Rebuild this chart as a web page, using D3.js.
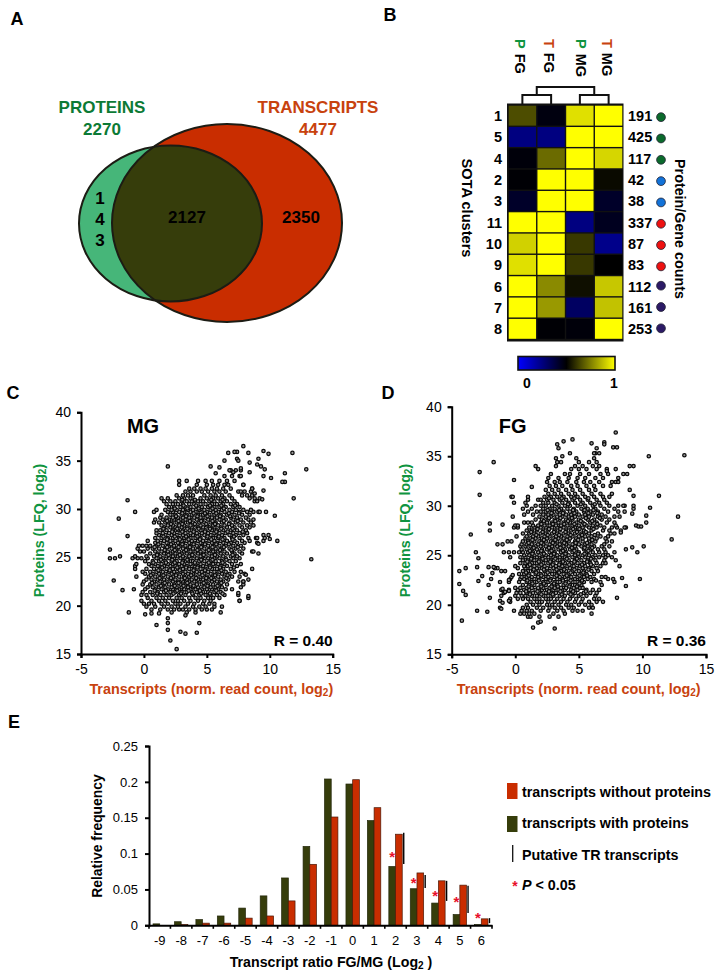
<!DOCTYPE html>
<html><head><meta charset="utf-8">
<script src="https://cdn.jsdelivr.net/npm/d3@7"></script>
<style>
html,body{margin:0;padding:0;background:#fff}
svg{display:block}
text{font-family:"Liberation Sans",Arial,sans-serif;fill:#000}
</style></head><body>
<svg id="c" width="720" height="977" viewBox="0 0 720 977"></svg>
<script>
// ---------- Panel A
const vennLabels = ["PROTEINS","TRANSCRIPTS"];
const vennTotals = [2270,4477];
const vennOnlyProt = ["1","4","3"];
const vennShared = 2127, vennOnlyTrans = 2350;
// ---------- Panel B
const heatCols = [["P","FG"],["T","FG"],["P","MG"],["T","MG"]];
const heatRowIds = [1,5,4,2,3,11,10,9,6,7,8];
const heatCounts = [191,425,117,42,38,337,87,83,112,161,253];
const heatGroups = ["g","g","g","b","b","r","r","r","p","p","p"];
const heatPFG = [.65,.25,.48,.49,.42,1,.91,.94,1,1,1];
const heatTFG = [.47,.25,.71,1,1,1,1,1,.77,.80,.49];
const heatPMG = [.94,1,1,1,1,.25,.61,.61,.53,.31,.48];
const heatTMG = [1,1,.92,.52,.42,.44,.23,.5,.89,.88,1];
const mgRows = [
[19.3,[2.2,3.4,4.1,6.1]],[19.6,[.6,1.3,1.9,2.4,2.8,3.1,3.6,4.1,4.6,5.0,5.4]],[19.9,[.2,.9,1.6,2.2,2.7,3.3,3.9,4.4,4.9,5.6,6.2]],
[20.2,[.0,.4,.8,1.4,1.9,2.5,2.9,3.5,4.0,4.7,5.2,5.6]],[20.5,[-.2,.6,1.2,1.7,2.3,2.7,3.2,3.7,4.3,4.8,5.3,7.6]],[20.8,[.3,1.0,1.5,2.0,2.6,3.0,3.6,4.1,4.5,5.1,5.5,6.0,8.3]],
[21.1,[-.2,.2,.7,1.3,1.8,2.2,2.8,3.3,3.9,4.4,4.9,5.3,5.8,6.4,7.5]],[21.4,[-.1,.5,1.1,1.6,2.1,2.5,3.0,3.4,3.8,4.2,4.7,5.1,5.6,6.1]],[21.7,[.1,.9,1.4,1.9,2.3,2.8,3.2,3.7,4.1,4.6,5.0,5.4,5.9,6.5,7.0,-.8]],
[21.9,[.3,.7,1.2,1.7,2.2,2.6,3.0,3.5,3.9,4.3,4.8,5.3,5.7,6.2,7.7]],[22.2,[-.1,.5,1.0,1.5,2.0,2.4,2.9,3.3,3.7,4.2,4.6,5.1,5.5,6.0,6.6,7.9]],[22.5,[.0,.8,1.3,1.8,2.3,2.7,3.1,3.6,4.0,4.4,4.9,5.4,5.8,6.3,7.5,7.9]],
[22.7,[.2,.6,1.1,1.6,2.1,2.5,3.0,3.4,3.8,4.3,4.7,5.2,5.6,6.1,6.7,8.3]],[23.0,[-.6,.4,.9,1.4,1.9,2.3,2.8,3.2,3.6,4.1,4.5,5.0,5.5,5.9,6.4,7.0,7.6]],[23.3,[.1,.7,1.2,1.7,2.2,2.6,3.1,3.5,3.9,4.4,4.8,5.3,5.7,6.2,6.8,8.0]],
[23.5,[-.1,.5,1.0,1.5,2.0,2.4,2.9,3.3,3.8,4.2,4.6,5.1,5.6,6.0,6.5,7.2,7.7]],[23.8,[-.7,.2,.8,1.3,1.8,2.3,2.7,3.1,3.6,4.0,4.5,4.9,5.4,5.8,6.3,6.9,8.6]],[24.1,[-.7,.6,1.1,1.6,2.1,2.5,3.0,3.4,3.8,4.3,4.7,5.2,5.6,6.1,6.6,7.4]],
[24.3,[-.6,.4,.9,1.4,1.9,2.3,2.8,3.2,3.7,4.1,4.5,5.0,5.5,5.9,6.4,7.0,7.7]],[24.6,[.1,.7,1.2,1.7,2.2,2.6,3.1,3.5,3.9,4.4,4.8,5.3,5.7,6.2,6.8,7.3]],[24.9,[-.9,-.5,-.2,.3,1.0,1.5,2.0,2.4,2.9,3.3,3.7,4.2,4.6,5.1,5.6,6.0,6.5,7.1,7.6]],
[25.1,[-.7,.2,.8,1.3,1.8,2.3,2.7,3.1,3.6,4.0,4.5,4.9,5.4,5.8,6.3,6.9,7.4]],[25.4,[.5,1.1,1.6,2.1,2.5,3.0,3.4,3.8,4.3,4.7,5.2,5.6,6.1,6.6,7.2,7.8,9.1]],[25.6,[-.3,.0,.9,1.4,1.9,2.3,2.8,3.2,3.7,4.1,4.5,5.0,5.5,5.9,6.4,7.0,7.6,8.6]],
[25.9,[-.5,.3,.7,1.2,1.7,2.2,2.6,3.1,3.5,3.9,4.4,4.8,5.3,5.7,6.2,6.8,7.3,7.9]],[26.2,[-.4,-.1,.2,.5,1.0,1.5,2.0,2.4,2.9,3.3,3.7,4.2,4.6,5.1,5.6,6.0,6.5,7.1,7.7]],[26.5,[.9,1.3,1.8,2.3,2.7,3.1,3.6,4.0,4.5,4.9,5.4,5.8,6.3,6.9,7.4,8.0,9.0]],
[26.7,[.3,1.1,1.6,2.1,2.5,3.0,3.4,3.8,4.3,4.7,5.2,5.6,6.1,6.6,7.2,7.8,8.4,9.5]],[27.0,[.9,1.4,1.9,2.3,2.8,3.2,3.7,4.1,4.5,5.0,5.5,5.9,6.4,7.0,7.6,8.3,8.9,9.6]],[27.3,[1.2,1.7,2.2,2.6,3.1,3.5,3.9,4.4,4.8,5.3,5.7,6.2,6.8,7.3,7.9,9.5]],
[27.5,[1.0,1.5,2.0,2.4,2.9,3.3,3.7,4.2,4.6,5.1,5.6,6.0,6.5,7.1,7.6,8.2]],[27.8,[1.0,1.3,1.8,2.3,2.7,3.1,3.6,4.0,4.5,4.9,5.4,5.8,6.3,6.9,7.4,8.1]],[28.1,[1.6,2.1,2.5,3.0,3.4,3.8,4.3,4.7,5.2,5.6,6.1,6.6,7.2,7.8,8.4]],
[28.3,[1.4,1.9,2.3,2.8,3.2,3.7,4.1,4.5,5.0,5.5,5.9,6.4,7.0,7.6,8.2,8.7]],[28.6,[.8,1.2,1.7,2.2,2.6,3.1,3.5,3.9,4.4,4.8,5.3,5.7,6.2,6.8,7.3,7.9,8.5]],[28.9,[.9,1.5,2.0,2.4,2.9,3.3,3.7,4.2,4.6,5.1,5.6,6.0,6.5,7.1,7.7,8.3,8.7]],
[29.1,[1.3,1.8,2.3,2.7,3.1,3.6,4.0,4.5,4.9,5.4,5.8,6.3,6.9,7.4,8.1]],[29.4,[1.4,2.1,2.5,3.0,3.4,3.8,4.3,4.7,5.2,5.6,6.1,6.6,7.2,7.8,8.4]],[29.7,[.8,1.9,2.3,2.8,3.2,3.7,4.1,4.5,5.0,5.5,5.9,6.4,7.0,7.6,8.2,8.7,9.1,9.7]],
[29.9,[1.0,1.7,2.2,2.6,3.1,3.5,3.9,4.4,4.8,5.3,5.7,6.2,6.8,7.3,7.9,8.5]],[30.2,[2.0,2.4,2.9,3.3,3.7,4.2,4.6,5.1,5.6,6.0,6.5,7.1,7.6]],[30.5,[1.8,2.3,2.7,3.1,3.6,4.0,4.5,4.9,5.4,5.8,6.3,6.9,7.4]],
[30.8,[1.6,2.1,2.5,3.0,3.4,3.8,4.3,4.7,5.2,5.6,6.1,6.6,7.2,8.8,9.0]],[31.1,[1.4,1.9,2.8,3.2,3.7,4.5,5.0,5.5,5.9,6.4,7.0,8.4,8.8]],[31.4,[2.6,3.1,3.5,3.9,4.8,5.3,5.7,6.2,6.8,7.8,8.2,8.6]],
[31.8,[3.3,3.7,4.2,4.6,5.1,5.6,6.0,6.5,7.5,7.7,8.0,8.5]],[32.1,[3.6,4.0,4.5,4.9,5.4,5.8,6.3,6.9,8.6]],[32.5,[2.8,4.2,5.0,5.5,5.9,6.4,6.7,7.9]],
[32.9,[2.8,3.4,4.3,4.9,5.4,6.0,6.6,7.2]],[33.4,[6.4,7.0,7.6,7.7]],[34.0,[6.9,7.3,7.7]]
];
const mgFill = [
[21.25,[1.05,2.35,2.95,3.85,4.55,5.25,6.25]],[21.55,[.85,1.75,2.65,3.55,4.45,5.75]],[22.05,[1.35,2.45,3.15,3.95,5.05,5.85]],[22.35,[.65,1.65,2.75,3.45,4.75,6.15]],
[22.85,[1.25,2.15,3.25,4.15,4.95,5.35,6.55]],[23.15,[.55,1.55,2.55,3.75,4.65,5.65,6.65]],[23.65,[1.15,2.05,2.85,3.95,4.85,6.15]],[23.95,[1.45,2.65,3.35,4.25,5.25,6.05,7.15]],
[24.45,[.75,1.75,2.45,3.05,4.05,5.15,6.25]],[24.75,[1.35,2.25,3.45,4.55,5.45,6.55]],[25.25,[1.05,1.95,2.85,3.85,4.75,5.65,7.05]],[25.75,[1.65,2.45,3.35,4.25,5.15,6.05,6.95]],
[26.05,[.85,1.85,2.75,3.65,4.55,5.45,6.35,7.45]],[26.35,[1.15,2.15,3.05,3.95,4.85,5.75,6.75]],[26.85,[1.85,2.85,3.55,4.45,5.35,6.25,7.05]],[27.15,[1.55,2.45,3.35,4.25,5.05,5.95,7.15]],
[27.65,[2.25,3.05,3.95,4.85,5.75,6.65,7.85]],[27.95,[1.55,2.65,3.45,4.35,5.25,6.15,7.05]],[28.45,[2.15,3.05,4.05,4.95,5.65,6.75]],[28.75,[1.85,2.75,3.65,4.55,5.45,6.35,7.45]],
[29.25,[2.55,3.35,4.25,5.05,6.05,6.85]],[29.55,[3.05,3.95,4.85,5.75,6.75,7.55]],[30.05,[2.45,3.45,4.35,5.45,6.35]],[30.35,[3.15,4.15,5.25,6.15,7.25]],[30.95,[3.05,4.05,5.35,6.25]]
];
const mgExtra = [[13.3,24.8],[12.9,34.1],[11.8,35.8],[11.2,33.7],[11.2,32.8],[11.0,32.8],[11.9,31.1],[10.4,29.3],[10.6,26.7],[10.1,33.2],[9.9,35.7],[9.5,36.0],[9.1,35.2],[9.0,34.6],[9.3,34.4],[9.6,34.1],[9.5,33.4],[9.5,31.9],[7.9,36.5],[8.3,35.8],[8.4,34.8],[7.4,35.9],[7.2,35.9],[6.7,35.8],[7.4,35.2],[7.5,35.0],[6.4,35.0],[6.0,34.3],[5.3,34.4],[5.7,33.7],[1.9,34.4],[-1.3,30.9],[-2.0,29.0],[-.7,29.7],[-1.3,27.2],[-2.7,25.8],[-2.7,24.9],[-2.3,24.9],[-1.9,25.1],[-2.4,22.6],[-1.7,21.6],[-1.2,19.3],[2.6,15.5],[2.1,16.4],[2.9,17.3],[3.3,17.1],[4.2,17.2],[4.4,18.2],[1.9,18.7],[1.9,18.2],[1.9,17.5],[1.0,18.0],[3.3,19.0],[.1,19.1],[.6,19.2],[1.2,19.2],[9.0,27.0],[9.1,26.4],[9.9,27.3],[10.0,26.9],[9.2,29.7],[8.7,25.6],[8.1,23.2],[7.9,22.5],[8.3,21.0],[7.5,21.3],[7.6,20.5],[8.8,31.6],[9.2,31.1],[9.4,31.0],[8.6,32.1],[7.9,32.5],[8.4,33.8],[7.7,34.2],[6.8,34.0],[7.1,33.8]];
// ---------- Panel D
const fgRows = [
[18.8,[1.0,1.2,1.9,2.7,3.4]],[19.1,[.4,.7,1.1,1.5,3.0,3.9,6.0]],[19.4,[-.1,.5,.9,1.3,2.0,2.6,3.3,3.8,4.5,4.9,5.3]],[19.7,[.6,1.0,1.7,2.2,2.7,3.1,3.6,4.2,4.6,5.8,6.1]],
[20.0,[.9,1.4,1.9,2.5,2.9,3.4,4.0,4.4,5.0,5.5,6.0]],[20.3,[-.4,1.2,1.7,2.1,2.6,3.1,3.6,4.1,4.7,5.2,5.8,6.4,6.9]],[20.6,[-.4,.2,.6,1.0,1.5,1.9,2.4,2.8,3.3,3.8,4.3,4.8,5.3,6.2,6.6]],
[20.9,[.0,.5,.8,1.3,1.7,2.2,2.6,3.0,3.5,3.9,4.5,5.0,5.6,6.3]],[21.2,[-.9,.1,.4,.9,1.4,1.9,2.4,2.8,3.2,3.7,4.2,4.7,5.4,5.9,6.4]],[21.5,[-1.1,-.5,.2,.7,1.1,1.6,2.1,2.5,3.0,3.4,3.9,4.4,4.9,5.6,6.1,6.6]],
[21.7,[.0,.4,.9,1.3,1.8,2.2,2.7,3.1,3.6,4.0,4.6,5.1,5.3]],[22.0,[.6,1.1,1.5,2.0,2.4,2.9,3.3,3.8,4.3,4.7,5.2,6.8]],[22.3,[-.5,.3,.9,1.3,1.7,2.2,2.6,3.1,3.5,4.0,4.5,4.9,5.4,6.0,6.7,7.8]],
[22.6,[-.4,.4,.7,1.1,1.5,1.9,2.4,2.8,3.3,3.7,4.2,4.7,5.1,5.7,6.2,7.3,7.7]],[22.8,[-.3,.5,.9,1.3,1.8,2.2,2.6,3.1,3.5,3.9,4.4,4.9,5.4,5.9,6.8,7.1]],[23.1,[.3,.7,1.1,1.6,2.0,2.4,2.9,3.3,3.8,4.2,4.7,5.2,5.6,6.2]],
[23.4,[-1.1,.6,1.0,1.4,1.8,2.3,2.7,3.1,3.6,4.0,4.5,5.0,5.4,6.0,6.5]],[23.7,[-1.4,-1.6,.2,.8,1.2,1.7,2.1,2.5,3.0,3.4,3.8,4.3,4.8,5.3,5.8,6.4]],[23.9,[.0,.7,1.0,1.5,1.9,2.3,2.8,3.2,3.7,4.1,4.6,5.1,5.5,6.1,6.7,8.2]],
[24.2,[.4,.8,1.3,1.7,2.2,2.6,3.0,3.5,3.9,4.4,4.9,5.4,5.9,6.4,6.9,7.1]],[24.5,[.6,1.0,1.5,1.9,2.4,2.8,3.3,3.7,4.2,4.7,5.2,5.7,6.3,7.0,7.9]],[24.8,[-.4,.4,.8,1.3,1.7,2.1,2.6,3.0,3.5,3.9,4.5,5.0,5.5,6.1,6.6,7.1,7.6]],
[25.0,[.7,1.1,1.5,1.9,2.4,2.8,3.3,3.7,4.2,4.7,5.3,5.8,6.3,6.9,7.3]],[25.3,[-.9,-.5,-.1,.3,.6,1.0,1.4,1.8,2.2,2.7,3.1,3.6,4.0,4.5,5.0,5.6,6.1,6.6,7.1,7.8]],[25.6,[.5,.9,1.3,1.7,2.1,2.5,3.0,3.4,3.9,4.3,4.8,5.4,5.9,6.5,7.0]],
[25.9,[.4,.8,1.2,1.6,2.0,2.4,2.9,3.3,3.8,4.2,4.7,5.2,5.7,6.2,6.8,7.4]],[26.1,[-1.4,-1.0,.5,.9,1.3,1.8,2.2,2.7,3.1,3.5,4.0,4.5,5.0,5.5,6.0,7.0]],[26.4,[-.6,-.3,.6,1.0,1.5,1.9,2.4,2.8,3.3,3.7,4.2,4.7,5.3,5.8,6.3,7.2,7.6]],
[26.7,[.8,1.2,1.6,2.1,2.5,3.0,3.4,3.8,4.3,4.8,5.3,5.8,6.4,7.1]],[26.9,[.1,.9,1.4,1.8,2.3,2.7,3.2,3.6,4.1,4.5,5.0,5.5,6.0,6.7,7.3]],[27.2,[.6,1.1,1.5,2.0,2.4,2.9,3.3,3.8,4.2,4.7,5.2,5.8,6.5,7.5,7.8]],
[27.5,[.9,1.3,1.7,2.2,2.6,3.1,3.5,4.0,4.4,4.9,5.4,6.0,6.9,7.4,8.3]],[27.8,[-.1,.2,1.1,1.5,2.0,2.4,2.9,3.3,3.8,4.2,4.7,5.3,5.8,6.4,7.0,7.6,8.0,8.7]],[28.0,[.0,.2,1.4,1.8,2.3,2.7,3.2,3.6,4.1,4.5,5.0,5.6,6.1,6.7,7.9]],
[28.3,[.7,1.0,1.3,2.0,2.5,2.9,3.4,3.8,4.3,4.8,5.3,5.9,6.4,7.2,7.8]],[28.6,[1.6,2.1,2.6,3.1,3.5,4.0,4.5,5.0,5.7,6.2,6.8,7.4]],[28.9,[-.2,1.9,2.4,2.8,3.3,3.7,4.2,4.7,5.3,5.8,6.5,7.1,7.8,8.2]],
[29.1,[.7,1.4,2.2,2.6,3.0,3.5,4.0,4.4,5.0,5.5,6.1,6.8]],[29.4,[1.0,1.7,2.0,2.4,2.9,3.3,3.8,4.3,4.8,5.4,5.9,6.5,7.3,8.1,8.6]],[29.7,[.6,1.3,2.2,2.7,3.1,3.6,4.1,4.6,5.2,5.7,6.3,7.0,7.8,9.3]],
[30.0,[.9,1.6,2.0,2.4,2.9,3.4,3.9,4.3,4.9,5.5,6.1,6.7,7.4,8.1,8.6,9.3]],[30.3,[-.1,.8,2.2,2.6,3.1,3.7,4.2,4.7,5.3,5.9,6.6,7.2]],[30.6,[1.0,1.8,2.0,2.5,3.0,3.5,4.0,4.5,5.1,5.7,6.4,7.0]],
[30.9,[-.3,-.2,1.0,2.3,2.8,3.3,3.8,4.4,4.9,5.5,6.2,6.9,7.4]],[31.2,[2.6,3.1,3.6,4.2,4.7,5.3,6.0,6.7,7.6]],[31.6,[2.4,2.9,3.4,4.0,4.5,5.1,5.8,6.3,9.0]],
[32.0,[2.7,3.2,3.7,4.4,4.9,5.6,6.2,6.9,7.5]],[32.4,[2.5,3.1,3.5,4.1,4.8,5.4,5.9,6.6,7.6,7.9,8.1]],[32.8,[2.6,3.4,4.2,4.9,5.5,6.3,6.9,8.1]],[33.2,[2.8,3.9,4.3,5.1,5.8,6.7,7.3,8.5,8.8]],
[33.7,[1.8,4.4,5.0,5.6,6.4,7.2,7.9]],[34.0,[1.6,3.2,4.7,5.3,6.1,6.6,9.0,9.3]],[34.4,[3.3,3.6,5.0,5.8,6.4]],[34.8,[3.2,4.8,6.2]],[35.3,[6.3,6.6,4.3]]
];
const fgFill = [
[21.05,[1.15,2.05,2.95,3.65,4.35,5.15]],[21.35,[.85,1.75,2.65,3.55,4.55,5.55]],[21.85,[1.05,2.05,2.85,3.35,4.25,4.85]],[22.15,[1.35,2.25,3.05,3.95,5.05]],
[22.45,[.95,1.85,2.75,3.75,4.35,5.25,6.35]],[22.95,[1.05,2.05,3.25,4.05,5.05,5.65]],[23.25,[.85,1.65,2.55,3.45,4.35,5.35]],[23.55,[1.45,2.25,3.25,3.85,4.65,5.75]],
[24.05,[1.15,2.05,2.95,3.45,4.25,5.25,5.95]],[24.35,[.95,1.85,2.75,3.75,4.65,5.65]],[24.65,[1.25,2.15,3.15,4.05,4.85,5.95]],[25.15,[1.35,2.25,3.05,3.95,4.95,5.45]],
[25.45,[1.15,2.05,2.85,3.75,4.65,5.75]],[25.75,[1.45,2.65,3.55,4.45,5.45,6.05]],[26.25,[1.05,2.05,2.95,3.85,4.75,5.65]],[26.55,[1.35,2.25,3.15,4.05,4.95,6.05]],
[27.05,[1.65,2.55,3.45,4.35,5.25,6.25]],[27.35,[1.25,2.15,3.05,3.95,4.85,5.55]],[27.65,[1.75,2.65,3.55,4.55,5.05,6.15]],[28.15,[2.05,2.95,3.85,4.65,5.45,6.45]],
[28.45,[2.25,3.15,4.15,5.15,6.05]],[28.75,[2.65,3.55,4.45,5.55,6.65]],[29.25,[2.85,3.75,4.65,5.75,6.45]],[29.55,[2.55,3.45,4.55,5.45,6.15]],[30.15,[3.25,4.15,5.15,6.25]],[30.75,[2.65,3.65,4.65,5.75]]
];
const fgExtra = [[13.3,35.1],[10.5,35.0],[11.3,31.0],[12.8,28.9],[12.3,26.6],[10.6,29.8],[10.3,29.0],[10.3,28.3],[9.8,22.6],[10.1,25.9],[9.2,25.8],[9.6,25.3],[8.7,25.6],[8.4,22.7],[8.7,21.9],[8.0,20.7],[7.9,37.4],[7.0,36.4],[6.0,36.3],[7.7,35.9],[8.0,35.9],[4.5,36.7],[3.8,36.5],[3.3,36.2],[3.4,35.8],[6.4,35.8],[6.2,35.3],[3.7,35.0],[-1.7,34.4],[-2.8,33.4],[-2.8,31.1],[-.1,32.6],[1.3,31.9],[-3.5,27.1],[-4.4,23.4],[-3.9,23.7],[-4.4,22.1],[-4.1,21.4],[-3.9,21.0],[-4.2,18.4],[-3.0,19.4],[-2.2,19.3],[3.1,17.6],[1.4,17.7],[1.8,18.2],[2.0,18.3],[-3.1,25.3],[-2.9,24.7],[-3.0,23.8],[-2.1,23.8],[-1.7,23.8],[-2.9,22.4],[-2.6,22.9],[-2.1,22.0],[-1.9,22.6],[-1.8,23.2],[-2.0,20.7],[-1.2,22.3],[-1.1,20.9],[-1.0,21.6],[-.8,21.3],[-1.2,20.4],[-1.2,19.7],[-1.1,19.6],[-.5,21.4],[-1.0,20.2],[-.5,20.4],[-1.0,28.1],[-2.0,27.5],[-2.0,28.2],[-.2,23.0],[-.5,22.5],[-.8,23.4],[9.2,29.2],[9.5,28.0],[9.7,27.9],[9.9,27.9],[8.3,27.3],[8.6,27.8],[8.5,30.0],[9.3,31.0],[7.2,33.5],[7.0,36.2]];
// ---------- Panel E
const ratioBins = [-9,-8,-7,-6,-5,-4,-3,-2,-1,0,1,2,3,4,5,6];
const withProteins = [.002,.005,.008,.013,.024,.041,.066,.11,.204,.197,.146,.082,.051,.031,.015,.001];
const withoutProteins = [0,.001,.003,.003,.01,.013,.034,.085,.151,.203,.164,.127,.073,.062,.056,.009];
const trBins = [2,3,4,5,6];
const trTop = [.129,.070,.062,.055,.010];
const trBottom = [.0855,.052,.034,.017,.003];
const starBins = [2,3,4,5,6];
const starLevels = [.1004,.0632,.0455,.0367,.0148];
const legendItems = ["transcripts without proteins","transcripts with proteins","Putative TR transcripts"];

const RED="#c92d00",OLIVE="#363d0b",LGREEN="#46b679",TGREEN="#0c7a35",TORANGE="#c8420e",AG="#0f9440";
const svg=d3.select("#c");
function T(x,y,s,o={}){
  const t=svg.append("text").attr("x",x).attr("y",y).attr("dominant-baseline","central")
    .attr("text-anchor",o.a||"middle").attr("font-size",o.s||14).attr("font-weight",o.w||700).style("fill",o.c||"#000").text(s);
  if(o.r!=null)t.attr("transform",`rotate(${o.r} ${x} ${y})`);
  return t;
}
[["A",17,19],["B",390,15],["C",13,393],["D",388,393],["E",14,722]].forEach(d=>T(d[1],d[2],d[0],{s:18}));

// Panel A
const defs=svg.append("defs");
defs.append("clipPath").attr("id","gc").append("ellipse").attr("cx",170.5).attr("cy",223.5).attr("rx",91.5).attr("ry",78);
svg.append("ellipse").attr("cx",170.5).attr("cy",223.5).attr("rx",91.5).attr("ry",78).attr("fill",LGREEN);
svg.append("ellipse").attr("cx",227).attr("cy",223).attr("rx",115).attr("ry",99).attr("fill",RED);
svg.append("ellipse").attr("cx",227).attr("cy",223).attr("rx",115).attr("ry",99).attr("fill",OLIVE).attr("clip-path","url(#gc)");
svg.append("ellipse").attr("cx",227).attr("cy",223).attr("rx",115).attr("ry",99).attr("fill","none").attr("stroke","#1c1c14").attr("stroke-width",2);
svg.append("ellipse").attr("cx",170.5).attr("cy",223.5).attr("rx",91.5).attr("ry",78).attr("fill","none").attr("stroke","#1c1c14").attr("stroke-width",2);
T(102,107.5,vennLabels[0],{s:17,c:TGREEN});T(102,129,vennTotals[0],{s:17,c:TGREEN});
T(318,107.5,vennLabels[1],{s:17,c:TORANGE});T(318,129,vennTotals[1],{s:17,c:TORANGE});
vennOnlyProt.forEach((d,i)=>T(100,198+i*21,d,{s:17}));
T(187,217,vennShared,{s:17});T(301,217,vennOnlyTrans,{s:17});

// Panel B
const hx=d3.scaleBand().domain(d3.range(4)).range([508,623]);
const hy=d3.scaleBand().domain(heatRowIds).range([105,339.5]);
const hc=d3.scaleLinear().domain([0,.5,1]).range(["#0000ff","#000000","#ffff00"]);
const heatMatrix=[heatPFG,heatTFG,heatPMG,heatTMG];
svg.append("rect").attr("x",507).attr("y",103.5).attr("width",116.5).attr("height",238).attr("fill","#111");
heatMatrix.forEach((col,c)=>col.forEach((v,r)=>{
  svg.append("rect").attr("x",hx(c)+.7).attr("y",hy(heatRowIds[r])+.7).attr("width",hx.bandwidth()-1.4).attr("height",hy.bandwidth()-1.4).attr("fill",hc(v));
}));
const dend=[[hx(0)+hx.bandwidth()/2,hx(1)+hx.bandwidth()/2],[hx(2)+hx.bandwidth()/2,hx(3)+hx.bandwidth()/2]];
const dpath=d3.path();
dend.forEach(p=>{dpath.moveTo(p[0],104);dpath.lineTo(p[0],95);dpath.lineTo(p[1],95);dpath.lineTo(p[1],104);});
dpath.moveTo((dend[0][0]+dend[0][1])/2,95);dpath.lineTo((dend[0][0]+dend[0][1])/2,87);dpath.lineTo((dend[1][0]+dend[1][1])/2,87);dpath.lineTo((dend[1][0]+dend[1][1])/2,95);
svg.append("path").attr("d",dpath.toString()).attr("fill","none").attr("stroke","#111").attr("stroke-width",2);
const topX=[520,549,580.5,607];
heatCols.forEach((d,i)=>{
  const t=svg.append("text").attr("transform",`translate(${topX[i]},39) rotate(90)`).attr("dominant-baseline","central").attr("font-size",14.5).attr("font-weight",700);
  t.append("tspan").style("fill",d[0]==="P"?AG:TORANGE).text(d[0]);
  t.append("tspan").attr("dx",5).style("fill","#000").text(d[1]);
});
const dotCol={g:"#0b6a2c",b:"#1272d8",r:"#ee1111",p:"#2c1a66"};
heatRowIds.forEach((id,i)=>{
  const cy=hy(id)+hy.bandwidth()/2;
  T(502,cy+.5,id,{s:14.5,a:"end"});
  T(628,cy+.5,heatCounts[i],{s:14.5,a:"start"});
  svg.append("circle").attr("cx",661).attr("cy",cy+(i>7?-.5:1.5)).attr("r",4.4).attr("fill",dotCol[heatGroups[i]]).attr("stroke","#223").attr("stroke-width",.8);
});
T(467,208,"SOTA clusters",{s:14.6,r:90});
T(680,229,"Protein/Gene counts",{s:14.3,r:90});
const lg=defs.append("linearGradient").attr("id","lg");
[0,.5,1].forEach(o=>lg.append("stop").attr("offset",o).attr("stop-color",hc(o)));
svg.append("rect").attr("x",518).attr("y",356.5).attr("width",97).attr("height",13.5).attr("fill","url(#lg)").attr("stroke","#111").attr("stroke-width",1.6);
T(527,382.5,"0",{s:14});T(614,382.5,"1",{s:14});

// Panels C, D
function scatter(o){
  const x=d3.scaleLinear().domain([-5,15]).range([o.x0,o.x1]);
  const y=d3.scaleLinear().domain([15,40]).range([o.y0,o.y1]);
  const pts=[];
  o.rows.forEach(r=>r[1].forEach(v=>pts.push([v,r[0]])));
  o.fill.forEach(r=>r[1].forEach(v=>pts.push([v,r[0]])));
  o.extra.forEach(p=>pts.push(p));
  svg.append("g").selectAll("circle").data(pts).join("circle")
    .attr("cx",d=>x(d[0])).attr("cy",d=>y(d[1])).attr("r",1.7).attr("fill","#9a9a9a").attr("stroke","#0a0a0a").attr("stroke-width",1.25);
  const ax=svg.append("g").attr("transform",`translate(0,${o.y0})`).call(d3.axisBottom(x).tickValues([-5,0,5,10,15]).tickSize(4).tickFormat(d3.format("d")));
  const ay=svg.append("g").attr("transform",`translate(${o.x0},0)`).call(d3.axisLeft(y).tickValues([15,20,25,30,35,40]).tickSize(4));
  [ax,ay].forEach(a=>{a.select(".domain").attr("stroke","#000").attr("stroke-width",2);a.selectAll("line").attr("stroke","#000").attr("stroke-width",2);
    a.selectAll("text").attr("font-size",14).attr("font-family","Liberation Sans").text(function(){return this.textContent.replace("−","-");});});
  ax.selectAll("text").attr("dy",null).attr("y",null).attr("dominant-baseline","central").attr("transform","translate(0,15)");
  ay.selectAll("text").attr("x",-10);
  T(o.tx,426,o.title,{s:20});
  T(o.x1,640.7,o.r,{s:15.5,a:"end"});
  const xt=T(o.xtx,689,"",{s:14.4});
  xt.append("tspan").style("fill",TORANGE).text("Transcripts (norm. read count, log");
  xt.append("tspan").attr("font-size",10).attr("dy",3).style("fill",TORANGE).text("2");
  xt.append("tspan").attr("dy",-3).style("fill",TORANGE).text(")");
  const yt=T(o.ytx,530.5,"",{s:14.2,r:-90});
  yt.append("tspan").style("fill",AG).text("Proteins (LFQ, log");
  yt.append("tspan").attr("font-size",10).attr("dy",3).style("fill",AG).text("2");
  yt.append("tspan").attr("dy",-3).style("fill",AG).text(")");
}
scatter({x0:81,x1:332.7,y0:654,y1:412.3,rows:mgRows,fill:mgFill,extra:mgExtra,title:"MG",tx:143,r:"R = 0.40",xtx:211.3,ytx:39});
scatter({x0:451.7,x1:706,y0:654.3,y1:406.7,rows:fgRows,fill:fgFill,extra:fgExtra,title:"FG",tx:512.7,r:"R = 0.36",xtx:578.7,ytx:405});

// Panel E
const bx=d3.scaleBand().domain(ratioBins).range([149,492]);
const by=d3.scaleLinear().domain([0,.25]).range([925.3,746]);
const sb=d3.scaleBand().domain([0,1]).range([bx.bandwidth()/2-6.7,bx.bandwidth()/2+6.7]);
[withProteins,withoutProteins].forEach((s,k)=>{
  svg.append("g").selectAll("rect").data(s).join("rect")
    .attr("x",(d,i)=>bx(ratioBins[i])+sb(k)).attr("width",sb.bandwidth())
    .attr("y",d=>by(d)).attr("height",d=>by(0)-by(d))
    .attr("fill",k?RED:OLIVE).attr("stroke",k?"#4a1a08":"#23270a").attr("stroke-width",.7);
});
trBins.forEach((b,i)=>{
  const lx=bx(b)+bx.bandwidth()/2+8.2;
  svg.append("line").attr("x1",lx).attr("x2",lx).attr("y1",by(trTop[i])).attr("y2",by(trBottom[i])).attr("stroke","#000").attr("stroke-width",1.4);
});
starBins.forEach((b,i)=>{
  T(bx(b)+bx.bandwidth()/2-3.3,by(starLevels[i])+3,"*",{s:15,c:"#e8102a"});
});
const eax=svg.append("g").attr("transform",`translate(0,${by(0)})`).call(d3.axisBottom(bx).tickSize(0).tickFormat(d=>d));
eax.select(".domain").attr("stroke","#000").attr("stroke-width",2);
eax.selectAll("text").attr("font-size",13).attr("font-family","Liberation Sans").attr("y",null).attr("dy",null).attr("dominant-baseline","central").attr("transform","translate(0,15.5)");
svg.append("g").selectAll("line").data(d3.range(17)).join("line")
  .attr("x1",d=>149+d*bx.step()).attr("x2",d=>149+d*bx.step()).attr("y1",by(0)).attr("y2",by(0)+3.5).attr("stroke","#000").attr("stroke-width",1.6);
const eay=svg.append("g").attr("transform","translate(149,0)").call(d3.axisLeft(by).tickValues([0,.05,.1,.15,.2,.25]).tickSize(4).tickFormat(d=>d===0?"0":String(+d.toFixed(2))));
eay.select(".domain").attr("stroke","#000").attr("stroke-width",2);
eay.selectAll("line").attr("stroke","#000").attr("stroke-width",2);
eay.selectAll("text").attr("font-size",13).attr("font-family","Liberation Sans").attr("x",-11);
T(97,836,"Relative frequency",{s:13.9,r:-90});
const ext=T(331,962,"",{s:14.2});
ext.append("tspan").text("Transcript ratio FG/MG (Log");
ext.append("tspan").attr("font-size",10).attr("dy",3).text("2");
ext.append("tspan").attr("dy",-3).text(" )");
// legend
svg.append("rect").attr("x",507).attr("y",783).attr("width",10.5).attr("height",16).attr("fill",RED);
svg.append("rect").attr("x",507).attr("y",816).attr("width",10.5).attr("height",16).attr("fill",OLIVE);
svg.append("line").attr("x1",512.7).attr("x2",512.7).attr("y1",845).attr("y2",862).attr("stroke","#111").attr("stroke-width",1.3);
T(522,792,legendItems[0],{s:14.3,a:"start"});
T(522,823,legendItems[1],{s:14.3,a:"start"});
T(522,855,legendItems[2],{s:14.3,a:"start"});
T(515,886,"*",{s:14,c:"#e8102a"});
const pt=T(522,885,"",{s:14.3,a:"start"});
pt.append("tspan").attr("font-style","italic").text("P");
pt.append("tspan").text(" < 0.05");
</script>
</body></html>
